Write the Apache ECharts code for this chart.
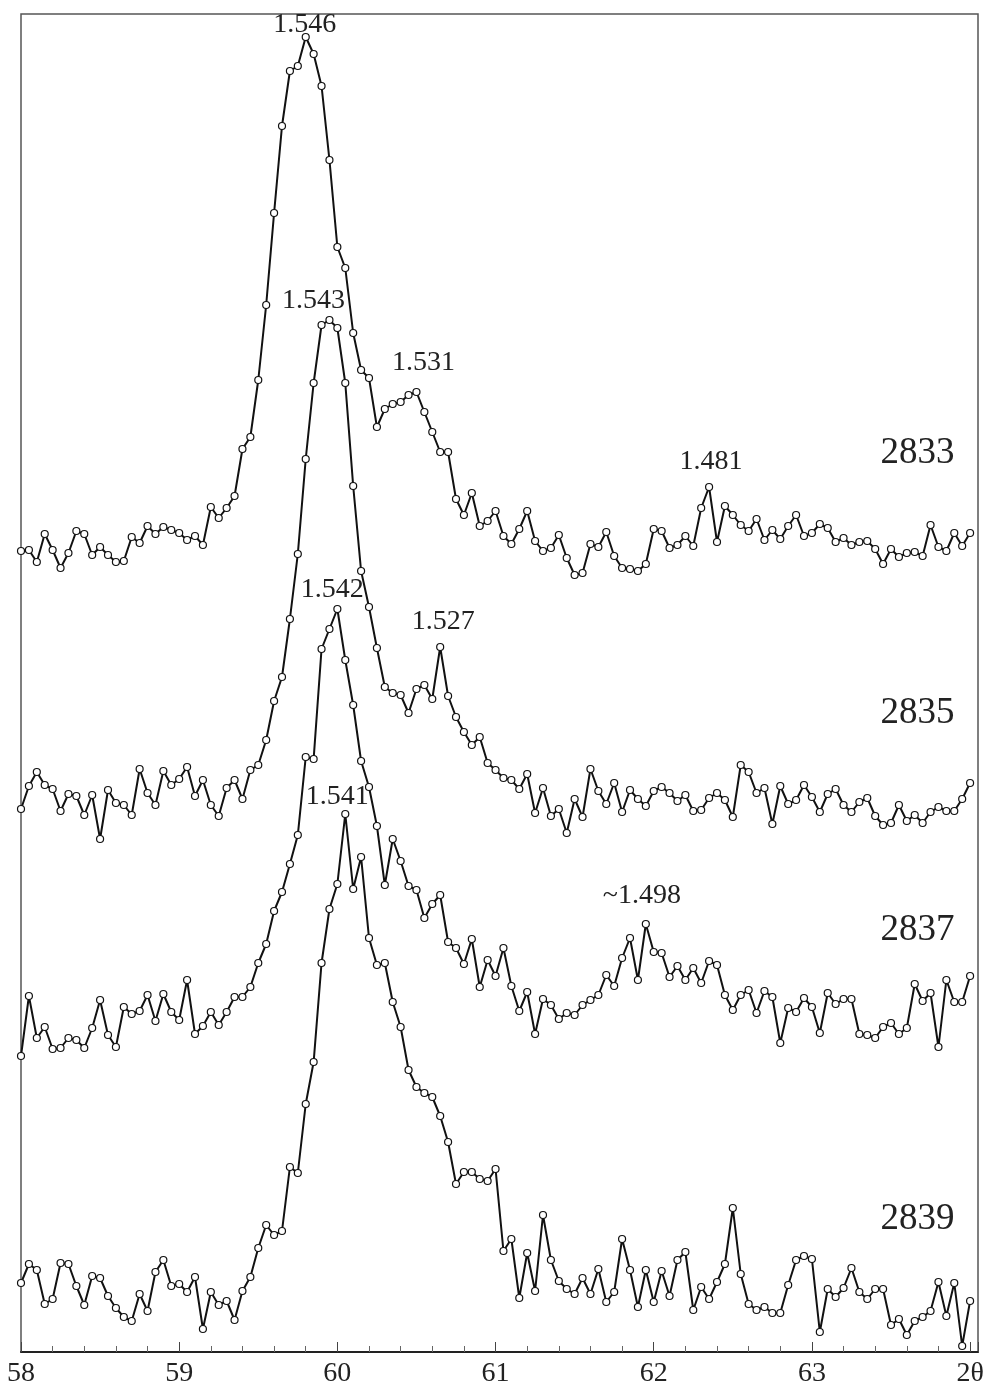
<!DOCTYPE html>
<html>
<head>
<meta charset="utf-8">
<script src="https://cdn.jsdelivr.net/npm/echarts@6/dist/echarts.min.js"></script>
<style>
  html, body { margin: 0; padding: 0; background: #fff; }
  #chart { width: 996px; height: 1397px; }
</style>
</head>
<body>
<div id="chart"></div>
<script>
// 2θ scan grid: 58.00° to 64.00° in 0.05° steps (121 points)
const twoThetaStart = 58.0;
const twoThetaStep = 0.05;
const pointCount = 121;
const twoTheta = [];
for (let i = 0; i < pointCount; i++) twoTheta.push(+(twoThetaStart + twoThetaStep * i).toFixed(2));

// Intensities (arbitrary units), one array per sample
const s2833 = [801,802,790,818,802,784,799,821,818,797,805,797,790,791,815,809,826,818,825,822,
  819,812,816,807,845,834,844,856,903,915,972,1047,1139,1226,1281,1286,1315,1298,1266,1192,
  1105,1084,1019,982,974,925,943,948,950,957,960,940,920,900,900,853,837,859,826,831,
  841,816,808,823,841,811,801,804,817,794,777,779,808,805,820,796,784,783,781,788,
  823,821,804,807,816,806,844,865,810,846,837,827,821,833,812,822,813,826,837,816,
  819,828,824,810,814,807,810,811,803,788,803,795,799,800,796,827,805,801,819,806,819];

const s2835 = [543,566,580,567,563,541,558,556,537,557,513,562,549,547,537,583,559,547,581,567,
  573,585,556,572,547,536,564,572,553,582,587,612,651,675,733,798,893,969,1027,1032,
  1024,969,866,781,745,704,665,659,657,639,663,667,653,705,656,635,620,607,615,589,
  582,574,572,563,578,539,564,536,543,519,553,535,583,561,548,569,540,562,553,546,
  561,565,559,551,557,541,542,554,559,552,535,587,580,559,564,528,566,548,552,567,
  555,540,558,563,547,540,550,554,536,527,529,547,531,537,529,540,545,541,541,553,569];

const s2837 = [296,356,314,325,303,304,314,312,304,324,352,317,305,345,338,341,357,331,358,340,
  332,372,318,326,340,327,340,355,355,365,389,408,441,460,488,517,595,593,703,723,
  743,692,647,591,565,526,467,513,491,466,462,434,448,457,410,404,388,413,365,392,
  376,404,366,341,360,318,353,347,333,339,337,347,352,357,377,366,394,414,372,428,
  400,399,375,386,372,384,369,391,387,357,342,357,362,339,361,355,309,344,340,354,
  345,319,359,348,353,353,318,317,314,325,329,318,324,368,351,359,305,372,350,350,376];

const s2839 = [69,88,82,48,53,89,88,66,47,76,74,56,44,35,31,58,41,80,92,66,
  68,60,75,23,60,47,51,32,61,75,104,127,117,121,185,179,248,290,389,443,
  468,538,463,495,414,387,389,350,325,282,265,259,255,236,210,168,180,180,173,171,
  183,101,113,54,99,61,137,92,71,63,58,74,58,83,50,60,113,82,45,82,
  50,81,56,92,100,42,65,53,70,88,144,78,48,42,45,39,39,67,92,96,
  93,20,63,55,64,84,60,53,63,63,27,33,17,31,35,41,70,36,69,6,51];

const sampleNames = ['2833', '2835', '2837', '2839'];
const sampleValues = [s2833, s2835, s2837, s2839];

// peak d-spacing annotations: sample, point index, text
const peakNotes = [
  ['2833', 36, '1.546'],
  ['2833', 50, '1.531'],
  ['2833', 87, '1.481'],
  ['2835', 39, '1.543'],
  ['2835', 53, '1.527'],
  ['2837', 40, '1.542'],
  ['2837', 79, '~1.498'],
  ['2839', 41, '1.541']
];
// label offsets (px) relative to the annotated point — styling, not data
const peakNoteOffsets = {
  '1.546': [-1, -12], '1.531': [7, -29], '1.481': [2, -25], '1.543': [-16, -19],
  '1.527': [3, -25], '1.542': [-5, -19], '~1.498': [-4, -28], '1.541': [-8, -17]
};
// sample name label anchor (data coords)
const nameLabelTheta = 63.668;
const nameLabelLevel = { '2833': 899, '2835': 639, '2837': 422, '2839': 133 };

const serif = 'Liberation Serif';
const chart = echarts.init(document.getElementById('chart'), null, { renderer: 'canvas' });

const series = sampleNames.map((name, k) => {
  const vals = sampleValues[k];
  const notes = peakNotes.filter(n => n[0] === name).map(n => ({
    coord: [twoTheta[n[1]], vals[n[1]]],
    value: n[2],
    label: { offset: peakNoteOffsets[n[2]], fontSize: 28 }
  }));
  notes.push({
    coord: [nameLabelTheta, nameLabelLevel[name]],
    value: name,
    label: { fontSize: 37, offset: [0, 0] }
  });
  return {
    name: name,
    type: 'line',
    data: vals.map((v, i) => [twoTheta[i], v]),
    symbol: 'circle',
    symbolSize: 7,
    showSymbol: true,
    showAllSymbol: true,
    lineStyle: { color: '#111', width: 2 },
    itemStyle: { color: '#fff', borderColor: '#111', borderWidth: 1.2 },
    emphasis: { disabled: true },
    animation: false,
    markPoint: {
      symbol: 'circle',
      symbolSize: 1,
      itemStyle: { color: 'rgba(0,0,0,0)' },
      label: {
        show: true,
        position: 'inside',
        formatter: p => p.value,
        color: '#222',
        fontFamily: serif
      },
      data: notes,
      animation: false
    }
  };
});

chart.setOption({
  animation: false,
  backgroundColor: '#fff',
  grid: { left: 21, right: 18, top: 14, bottom: 45, show: true, borderColor: '#555', borderWidth: 1.5 },
  xAxis: {
    type: 'value', min: 58, max: 64.05, interval: 1,
    axisLine: { show: true, lineStyle: { color: '#222', width: 2 } },
    axisTick: { show: true, inside: true, length: 10, lineStyle: { color: '#444', width: 1 } },
    minorTick: { show: true, splitNumber: 5, length: 6, lineStyle: { color: '#666', width: 1 } },
    splitLine: { show: false },
    minorSplitLine: { show: false },
    axisLabel: {
      fontFamily: serif, fontSize: 28, color: '#222', margin: 8,
      formatter: v => (Math.abs(v - 64) < 1e-9 ? '2θ' : String(v))
    }
  },
  yAxis: { type: 'value', min: 0, max: 1338, show: false },
  series: series
});
</script>
</body>
</html>
